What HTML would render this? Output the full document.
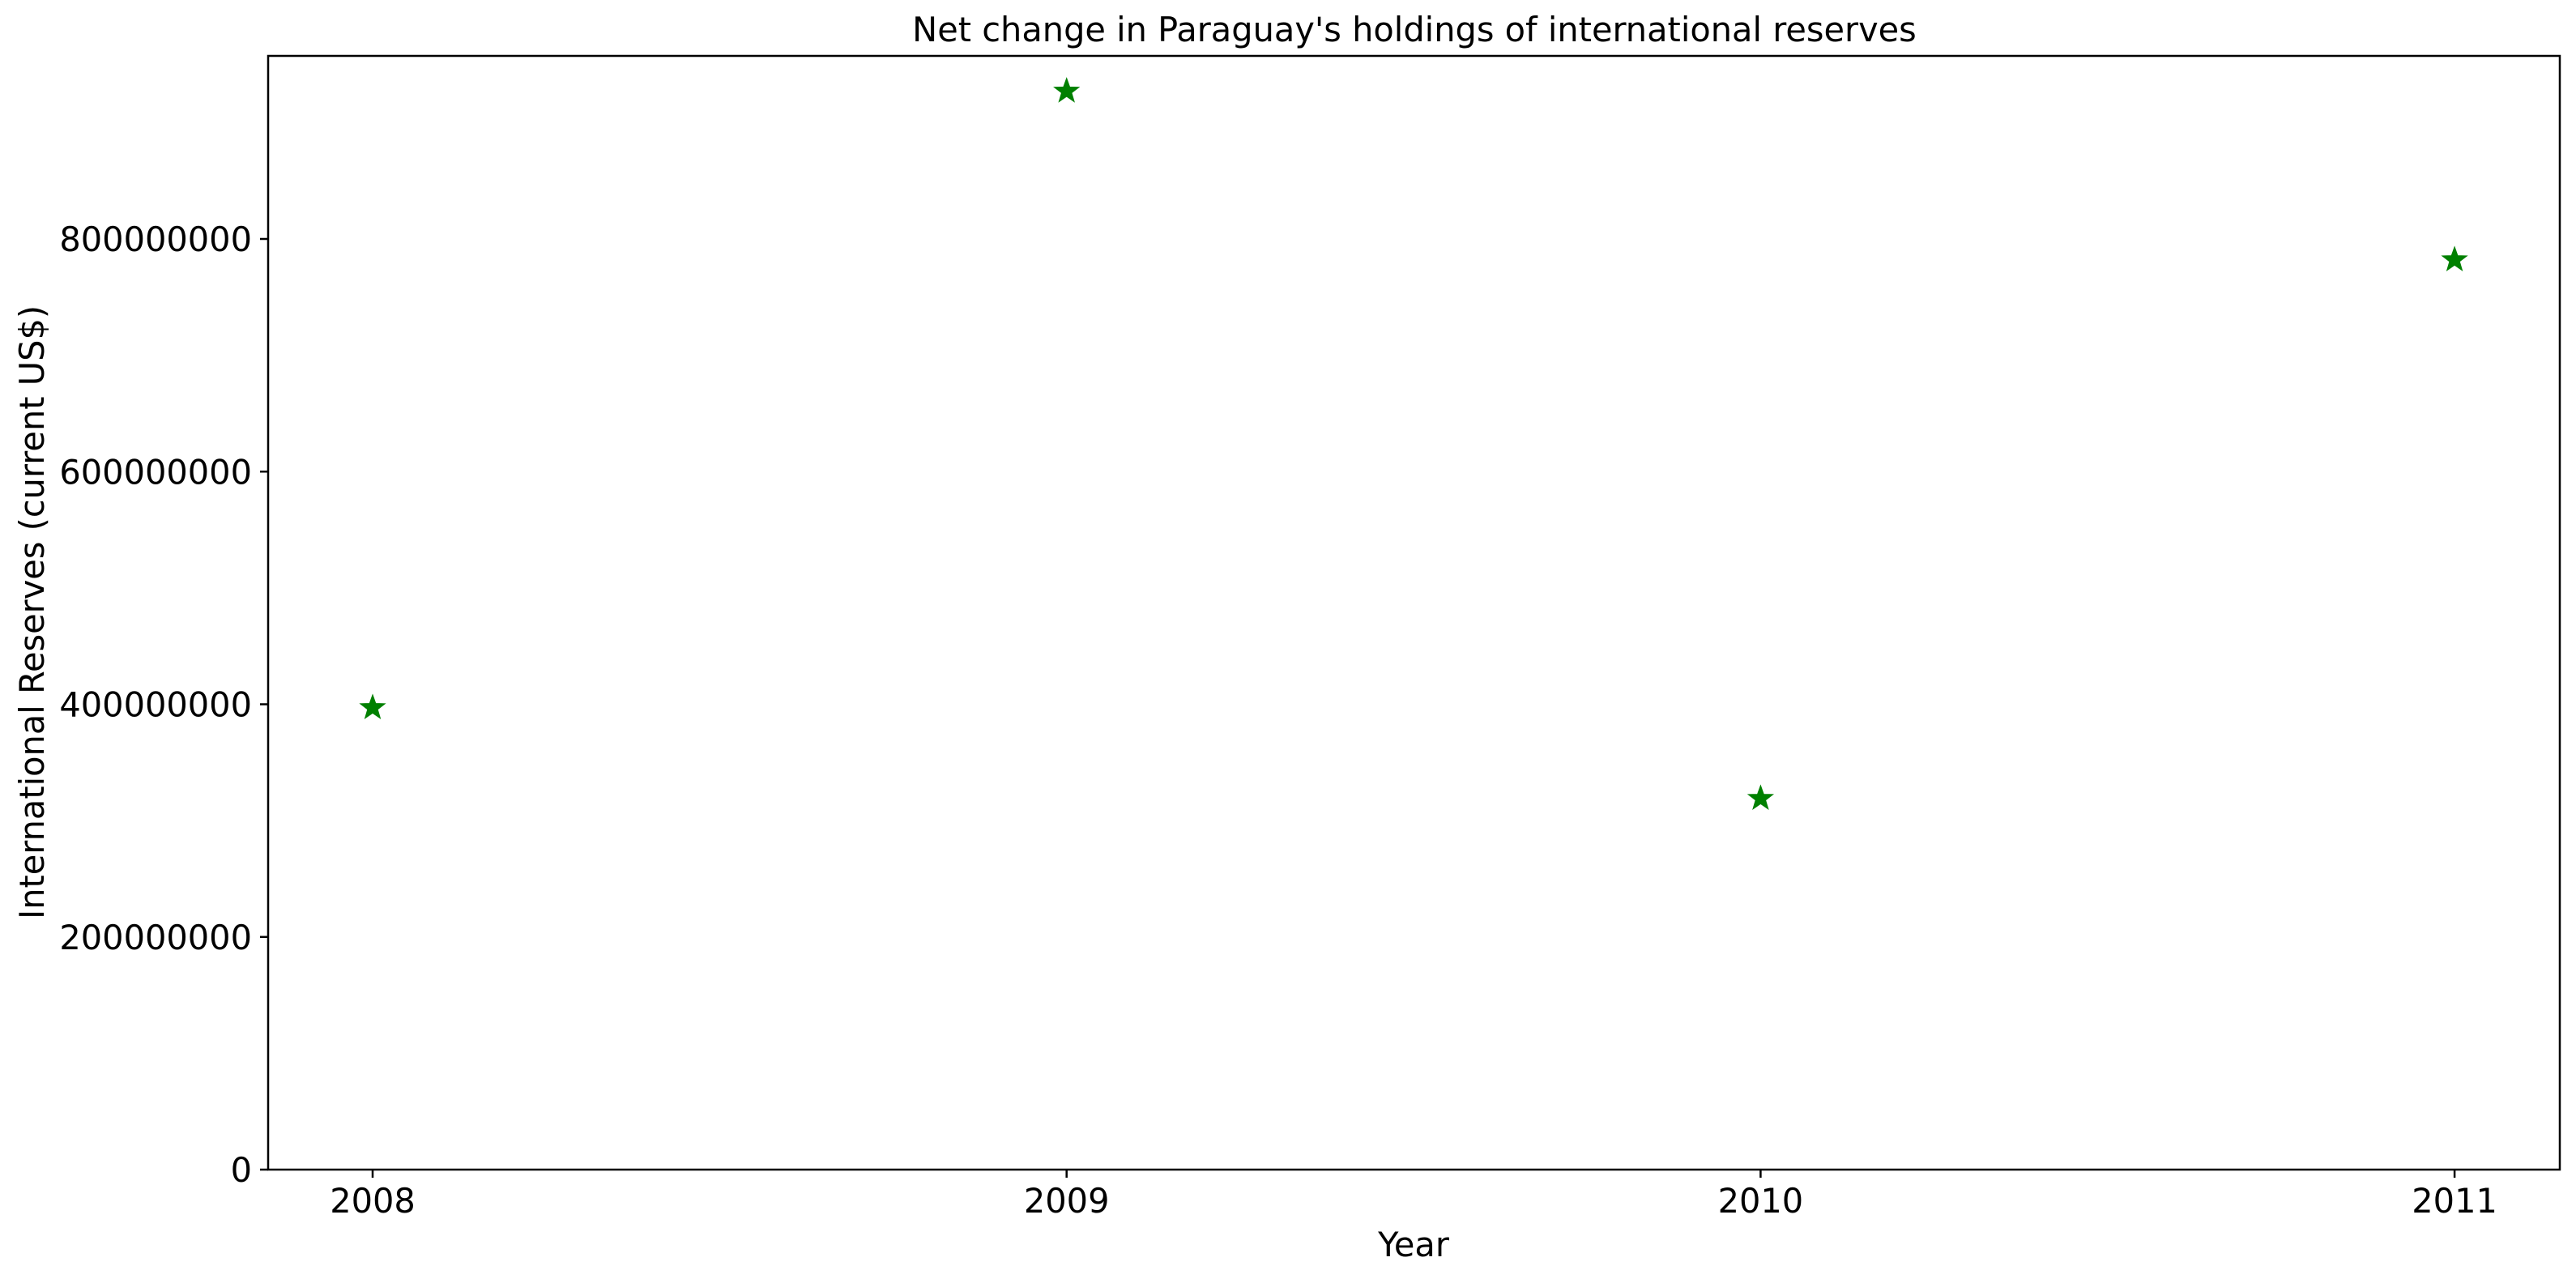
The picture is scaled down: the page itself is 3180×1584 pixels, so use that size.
<!DOCTYPE html>
<html><head><meta charset="utf-8"><style>
html,body{margin:0;padding:0;background:#fff;}
svg text{font-family:"DejaVu Sans","Liberation Sans",sans-serif;fill:#000;}
</style></head><body>
<svg id="chart" width="3180" height="1579" xmlns="http://www.w3.org/2000/svg">
<rect x="0" y="0" width="3180" height="1579" fill="#fff"/>
<text x="1746" y="51" font-size="41.5" text-anchor="middle">Net change in Paraguay's holdings of international reserves</text>
<g id="ticks"></g>
<g id="marks"></g>
<rect x="331" y="69" width="2829" height="1375" fill="none" stroke="#000" stroke-width="2.5"/>
<text x="1745" y="1551" font-size="41.5" text-anchor="middle">Year</text>
<text transform="translate(54,756) rotate(-90)" font-size="41.5" text-anchor="middle">International Reserves (current US$)</text>
</svg>
<script>
const years = [2008, 2009, 2010, 2011];
const reserves = [397000000, 927000000, 319000000, 782000000];
const yTicks = [0, 200000000, 400000000, 600000000, 800000000];
const yTickLabels = ["0", "200000000", "400000000", "600000000", "800000000"];

const NS = "http://www.w3.org/2000/svg";
function xScale(v){ return 460 + (v - 2008) * 856.7; }
function yScale(v){ return 1444 - v / 200000000 * 287.25; }
const ticks = document.getElementById('ticks');
const marks = document.getElementById('marks');

yTicks.forEach((t, i) => {
  const y = yScale(t);
  const l = document.createElementNS(NS, 'line');
  l.setAttribute('x1', 321); l.setAttribute('x2', 331);
  l.setAttribute('y1', y); l.setAttribute('y2', y);
  l.setAttribute('stroke', '#000'); l.setAttribute('stroke-width', 2.5);
  
  
  ticks.appendChild(l);
  const tx = document.createElementNS(NS, 'text');
  tx.setAttribute('x', 311); tx.setAttribute('y', y + 15);
  tx.setAttribute('font-size', 41.5); tx.setAttribute('text-anchor', 'end');
  tx.textContent = yTickLabels[i];
  
  
  ticks.appendChild(tx);
});

years.forEach((yr) => {
  const x = xScale(yr);
  const l = document.createElementNS(NS, 'line');
  l.setAttribute('x1', x); l.setAttribute('x2', x);
  l.setAttribute('y1', 1444); l.setAttribute('y2', 1454);
  l.setAttribute('stroke', '#000'); l.setAttribute('stroke-width', 2.5);
  
  
  ticks.appendChild(l);
  const tx = document.createElementNS(NS, 'text');
  tx.setAttribute('x', x); tx.setAttribute('y', 1497);
  tx.setAttribute('font-size', 41.5); tx.setAttribute('text-anchor', 'middle');
  tx.textContent = String(yr);
  
  
  ticks.appendChild(tx);
});

function starPath(cx, cy, R, r){
  let d = '';
  for (let k = 0; k < 10; k++){
    const rad = k % 2 === 0 ? R : r;
    const a = -Math.PI/2 + k * Math.PI/5;
    d += (k ? 'L' : 'M') + (cx + rad*Math.cos(a)).toFixed(2) + ',' + (cy + rad*Math.sin(a)).toFixed(2);
  }
  return d + 'Z';
}
years.forEach((yr, i) => {
  const p = document.createElementNS(NS, 'path');
  p.setAttribute('d', starPath(xScale(yr), yScale(reserves[i]), 16, 6.5));
  p.setAttribute('fill', '#008000');
  p.setAttribute('stroke', '#008000');
  p.setAttribute('stroke-width', 1);
  
  
  marks.appendChild(p);
});
</script>
</body></html>
